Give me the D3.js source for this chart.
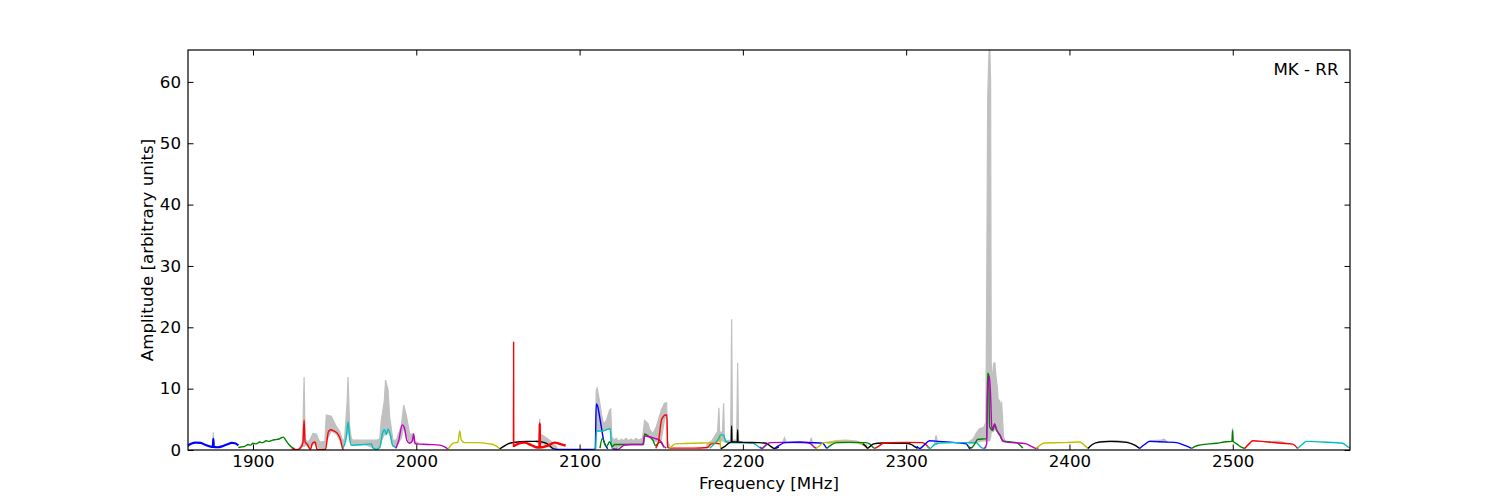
<!DOCTYPE html>
<html><head><meta charset="utf-8">
<script src="https://cdn.jsdelivr.net/npm/d3@7"></script>
<style>body{margin:0;background:#fff} svg{display:block} text{font-family:"DejaVu Sans",sans-serif}</style>
</head><body><svg id="c" width="1500" height="500"></svg>
<script>
// ---------- data ----------
const xDomain = [1860.2, 2571.8];
const yDomain = [0, 65.2];
const xTicks = [1900, 2000, 2100, 2200, 2300, 2400, 2500];
const yTicks = [0, 10, 20, 30, 40, 50, 60];
const title = "MK - RR";
const xLabel = "Frequency [MHz]";
const yLabel = "Amplitude [arbitrary units]";

// raw spectrum (grey): [freq, low, high]
const gray1876 = [[1875.2,0.55,0.6],[1875.7,0.5,2.9],[1876.2,0.5,0.55]];
const gray1930 = [[1928.6,0.1,0.3],[1930.4,0.6,1.4],[1931.3,0.6,11.9],[1931.9,0.8,1.8],[1933.5,0.6,1.3],[1934.7,0.2,1.6],[1936.7,1.0,2.7],[1938.8,1.0,2.6],[1940.8,0.1,1.3],[1944,0.1,1.4],[1944.9,1.5,5.7],[1948,3.1,5.5],[1951.1,2.6,3.8],[1953.1,1.6,3.0],[1955.1,0.3,1.4],[1956.1,1.5,1.9],[1957.6,2.5,7.6],[1958.2,3.5,11.9],[1959.2,1.9,3.8],[1960.2,0.8,1.9],[1961,0.8,1.6],[1968,0.9,1.6],[1975.6,0.2,1.6],[1977.6,0.4,1.8],[1978.6,1.5,4.9],[1980.4,2.5,8.0],[1981.2,2.5,11.4],[1982.7,3.0,9.8],[1983.7,2.5,5.4],[1985.7,0.8,1.6],[1987.8,0.5,1.6],[1990.9,2.0,4.1],[1992.3,3.8,7.3],[1993.9,2.5,5.7],[1996,1.1,2.5],[1998,2.0,2.7],[1999,1.0,1.4],[2001,1.0,1.2]];
const gray2075 = [[2073.5,1.3,1.5],[2075.3,1.0,1.6],[2075.6,1.0,5.1],[2075.9,1.0,2.6],[2078,1.0,2.3],[2080,0.8,1.9],[2082,0.4,1.5],[2084,0.2,1.0],[2086,0.15,0.5]];
const gray2110 = [[2109.7,0.2,0.5],[2110.2,3.1,9.8],[2110.8,3.1,10.1],[2112.3,3.1,7.8],[2113.6,3.1,5.5],[2114.7,3.1,4.3],[2116.4,3.3,4.8],[2118.4,3.4,6.5],[2119.1,3.4,6.7],[2119.7,0.5,2.2],[2121,0.3,1.6],[2122.5,0.4,1.9],[2124,0.5,1.4],[2125.5,0.6,1.8],[2127,0.8,1.5],[2128.5,0.85,1.9],[2130,0.9,1.5],[2131.5,0.9,1.8],[2133,0.9,1.5],[2134.5,0.9,1.9],[2136,0.9,1.6],[2137.5,0.9,1.8],[2138.5,0.9,1.8],[2139.8,2.3,4.8],[2141.9,2.2,4.3],[2143,2.0,3.3],[2144.9,1.6,2.7],[2147,1.4,3.8],[2150,1.6,6.5],[2152,5.0,7.6],[2153.3,5.5,7.7],[2153.9,0.5,1.5],[2155,0.3,0.8]];
const gray2185 = [[2178,0.4,1.0],[2181,1.0,1.5],[2183,1.1,2.4],[2184.5,1.4,3.0],[2185.3,1.5,6.9],[2185.8,1.5,2.8],[2187.5,1.5,3.0],[2188.2,1.5,7.6],[2188.7,1.3,2.0],[2190,1.2,1.5],[2192.5,1.2,1.6],[2193.1,1.2,21.3],[2193.7,1.2,1.6],[2196.2,1.2,1.6],[2196.8,1.2,14.2],[2197.4,1.2,1.5],[2199,1.2,1.3]];
const gray2225 = [[2224.5,1.2,1.3],[2225.5,1.2,2.0],[2226.5,1.2,1.3]];
const gray2241 = [[2240.8,1.1,1.2],[2241.8,1.1,1.9],[2242.8,1.0,1.1]];
const gray2260 = [[2252,1.1,1.25],[2257,1.2,1.55],[2263,1.2,1.6],[2270,1.2,1.45],[2276,0.5,0.8]];
const gray2318 = [[2317.3,1.0,1.1],[2318.3,1.0,2.4],[2319.3,1.0,1.1]];
const gray2350 = [[2338.5,1.0,1.4],[2341,1.1,1.8],[2343,1.2,2.8],[2345,1.4,3.5],[2347.5,1.5,3.7],[2348.8,1.5,4.5],[2349.3,1.5,25],[2349.9,1.5,57],[2350.5,1.5,63],[2351.1,1.5,67],[2351.7,2.0,60],[2352.1,3.0,14],[2352.8,3.0,11],[2353.5,3.0,14.1],[2354.3,3.5,14.2],[2355,3.2,12],[2355.8,3.0,10.3],[2356.5,2.5,7.5],[2357.2,2.4,8.2],[2357.8,2.2,6.5],[2358.4,2.0,7.9],[2359,1.6,5.4],[2359.6,1.4,2.2],[2360.5,1.3,1.5],[2362,1.2,1.3]];
const gray2430 = [[2420,1.3,1.4],[2428,1.35,1.55],[2436,1.2,1.35]];
const gray2455 = [[2449,1.35,1.5],[2456,1.3,1.6],[2458,1.25,1.75],[2460,1.25,1.35]];
const gray2500 = [[2499.4,1.4,1.4],[2499.9,1.4,3.6],[2500.4,1.4,1.4]];
const gray2527 = [[2522,1.25,1.35],[2528,1.15,1.45],[2532,1.05,1.2]];
const grayBands = [gray1876, gray1930, gray2075, gray2110, gray2185, gray2225, gray2241, gray2260, gray2318, gray2350, gray2430, gray2455, gray2500, gray2527];

// band-averaged spectra: [freq, amplitude]
const blue1 = [[1860,0.7],[1862,1.0],[1865,1.2],[1868,1.15],[1871,0.8],[1874,0.55],[1875.4,0.5],[1875.7,1.8],[1876,0.5],[1878,0.45],[1881,0.6],[1884,0.9],[1887,1.15],[1889,1.1],[1891,0.75]];
const green1 = [[1891,0.4],[1893,0.5],[1895,0.6],[1897,0.9],[1898.5,0.8],[1900,1.1],[1902,1.0],[1904,1.3],[1906,1.2],[1908,1.5],[1910,1.4],[1912,1.6],[1914,1.7],[1916,1.8],[1918.5,2.1],[1920,1.6],[1922,0.9],[1924,0.4],[1925.5,0.2]];
const red1 = [[1923.7,0.2],[1927,0.05],[1929.2,0.4],[1930.6,1.2],[1931.3,4.9],[1931.9,1.3],[1933.3,0.9],[1935.2,0.1],[1936.4,1.1],[1938,1.3],[1939,0.3],[1939.6,0.05],[1944.4,0.1],[1946.2,3.0],[1947.6,3.3],[1949.5,3.1],[1951.7,2.7],[1953.7,1.6],[1954.8,0.3],[1955.5,0.05]];
const cyan1 = [[1955.1,0.3],[1957.2,2.2],[1958.2,4.6],[1959.2,1.9],[1960.2,0.8],[1966,0.85],[1972.5,1.0],[1973.5,0.3],[1975.6,0.1],[1977.6,0.4],[1979.6,3.0],[1980.6,3.3],[1981.7,2.5],[1982.7,3.4],[1984.1,2.5],[1985.4,0.8],[1986.8,0.5],[1987.8,0.3]];
const magenta1 = [[1987.5,0.3],[1989.3,1.6],[1991.4,4.1],[1992.8,3.5],[1994.2,1.6],[1995.9,1.1],[1997.6,1.5],[1998.4,2.6],[1999.2,1.1],[2000,1.0],[2007,0.9],[2014.3,0.8],[2017.3,0.5],[2019.4,0.15]];
const yellow1 = [[2019.4,0.15],[2022.5,1.1],[2025.5,1.3],[2026.6,3.1],[2027.6,1.6],[2029.6,1.2],[2036.8,1.2],[2044.9,1.0],[2048,0.8],[2051.1,0.2]];
const black1 = [[2051.1,0.2],[2053,0.5],[2056.2,1.0],[2059,1.2],[2063.3,1.35],[2068,1.4],[2073.5,1.4],[2078.6,1.2],[2081.7,0.7],[2083.7,0.2]];
const red2Spike = [[2059.5,0.5],[2059.6,17.6],[2059.7,0.6]];
const red2 = [[2059.7,0.6],[2062.2,1.0],[2066.4,1.2],[2070.4,0.8],[2074.5,0.4],[2075.45,0.4],[2075.6,4.35],[2075.75,0.4],[2080.6,0.7],[2084.7,1.2],[2087.8,1.0],[2091.5,0.7]];
const blue2 = [[2083.7,0.2],[2086.8,0.1],[2100,0.1],[2109.6,0.15],[2110.2,7.5],[2111.2,7.0],[2111.9,6.0],[2113.3,3.8],[2114.7,1.6],[2116.4,0.5],[2117.3,0.2]];
const cyan2 = [[2109.9,0.2],[2110.3,3.1],[2114.3,3.1],[2117.3,3.4],[2118.7,3.5],[2119.3,1.6],[2119.9,0.3],[2121.4,0.1],[2123,0.3]];
const green2 = [[2112.5,0.3],[2113.9,1.9],[2116.4,0.55],[2118.4,1.35],[2120,0.55],[2121.5,0.9],[2130,0.9],[2139.2,0.9],[2139.8,2.6],[2141.9,2.3],[2144.9,1.6],[2146.6,0.7],[2148,1.1],[2150.1,1.3],[2151.5,0.4]];
const magenta2 = [[2120.3,0.2],[2123.3,0.1],[2127.5,0.8],[2131.5,0.9],[2138.7,0.9],[2139.8,2.3],[2141.9,2.2],[2146,1.9],[2149,1.6],[2151,0.8],[2153.1,0.3]];
const red3 = [[2146.6,0.3],[2148.2,1.2],[2150.3,5.0],[2152.7,5.7],[2153.5,5.7],[2153.9,0.5],[2155.2,0.3],[2170,0.3],[2178.4,0.4],[2180.5,1.0],[2183.5,1.1],[2186,1.0]];
const yellow2 = [[2154.5,0.2],[2156.5,0.6],[2158.5,1.0],[2165,1.05],[2175,1.15],[2182,1.2],[2184.5,1.4],[2185.8,2.4],[2186.3,0.5],[2187,0.2]];
const cyan3 = [[2179.7,0.3],[2184.8,1.7],[2186.8,2.5],[2188.2,2.4],[2189.5,1.4],[2192,1.2],[2206,1.15],[2209.3,0.6],[2211.4,0.25],[2213.4,0.6],[2215.4,1.0]];
const black2 = [[2186.5,0.2],[2189,0.6],[2191.9,1.2],[2192.9,1.3],[2193.1,3.9],[2193.3,1.3],[2196.6,1.3],[2196.8,3.3],[2197,1.3],[2200,1.25],[2210,1.2],[2214.3,1.1],[2217,0.6],[2219.5,0.25],[2222,0.5]];
const magenta3 = [[2210.5,0.5],[2211.8,0.25],[2214.3,0.9],[2217,1.2],[2225,1.25],[2235,1.2],[2240.9,1.1],[2243.5,0.5],[2245.2,0.2]];
const blue3 = [[2219.5,0.25],[2222,0.7],[2225.6,1.2],[2235,1.3],[2242,1.2],[2248.9,1.1],[2250.5,0.6],[2251.3,0.25]];
const yellow3 = [[2244.6,0.2],[2247,0.7],[2249.5,1.2],[2260,1.3],[2270,1.2],[2273.5,1.0],[2275.5,0.5],[2277,0.2]];
const green3 = [[2251.3,0.25],[2254,0.8],[2257.4,1.2],[2265,1.25],[2275,1.2],[2277.6,1.0],[2279.5,0.5],[2280.7,0.25]];
const black3 = [[2273.5,1.0],[2275.2,0.6],[2276.3,0.3],[2278,0.6],[2280,1.0],[2285,1.15],[2300,1.1],[2303,0.9],[2305.5,0.5],[2307,0.25]];
const red4 = [[2280.7,0.25],[2283,0.6],[2286,1.1],[2288,1.2],[2300,1.25],[2310,1.2],[2312,0.9],[2313.5,0.5],[2314.4,0.25]];
const blue4 = [[2306.5,0.6],[2308.3,0.25],[2311,0.8],[2314.4,1.5],[2320,1.4],[2330,1.2],[2336.8,1.0],[2338.2,0.5],[2338.9,0.25],[2340,0.5]];
const cyan4 = [[2313,0.6],[2314.6,0.25],[2317,0.8],[2320.5,1.15],[2330,1.2],[2342.9,1.2],[2344.5,0.8],[2346,0.4],[2347.5,0.25],[2349,0.5]];
const green4 = [[2338,0.6],[2339.8,0.3],[2342,1.0],[2343.9,1.75],[2349.3,1.85],[2349.9,12.5],[2350.5,12.3],[2351.1,3.8],[2353.1,3.2],[2354.2,4.1],[2355.5,3.2],[2357.2,2.5],[2359.3,1.5],[2364,1.3],[2367.5,1.2],[2370.4,0.6],[2371.4,0.3]];
const magenta4 = [[2348,0.25],[2349.3,1.0],[2350,10.3],[2351,12.0],[2351.8,8.2],[2352.5,3.3],[2354.2,4.3],[2355.2,3.4],[2357.5,2.4],[2359.3,1.4],[2365,1.2],[2373.5,1.0],[2376.6,0.6],[2379.6,0.25],[2381,0.4]];
const yellow4 = [[2379.6,0.25],[2382,0.8],[2384.8,1.15],[2395,1.2],[2406.2,1.3],[2409,0.8],[2411.3,0.25]];
const black4 = [[2411.3,0.25],[2414,0.9],[2418.5,1.3],[2425,1.4],[2435,1.25],[2440,0.8],[2443,0.25]];
const blue5 = [[2443,0.25],[2446,0.9],[2449.1,1.4],[2455,1.35],[2465.6,1.2],[2471,0.7],[2474.8,0.25]];
const green5 = [[2474.8,0.25],[2477,0.6],[2479.7,0.8],[2490,1.1],[2496.2,1.35],[2499.6,1.4],[2499.9,3.2],[2500.2,1.4],[2502.4,1.0],[2505,0.5],[2507.3,0.25]];
const red5 = [[2507.3,0.25],[2510,1.0],[2512.2,1.5],[2520,1.35],[2530,1.1],[2536.7,0.95],[2539.7,0.25]];
const cyan5 = [[2539.7,0.25],[2542.5,0.9],[2545.2,1.4],[2555,1.3],[2567.3,1.1],[2570,0.6],[2572,0.3]];

const palette = {b:"#0000ff", g:"#008000", r:"#ff0000", c:"#00bfbf", m:"#bf00bf", y:"#bfbf00", k:"#000000"};
const series = [
  [blue1,"b",2.2],[green1,"g"],[red1,"r"],[cyan1,"c"],[magenta1,"m"],[yellow1,"y"],[black1,"k"],
  [red2Spike,"r",1.4],[red2,"r",2.4],[blue2,"b"],[cyan2,"c"],[green2,"g"],[magenta2,"m"],[red3,"r"],[yellow2,"y"],
  [cyan3,"c"],[black2,"k"],[magenta3,"m"],[blue3,"b"],[yellow3,"y"],[green3,"g"],[black3,"k"],
  [red4,"r"],[blue4,"b"],[cyan4,"c"],[green4,"g"],[magenta4,"m"],[yellow4,"y"],[black4,"k"],
  [blue5,"b"],[green5,"g"],[red5,"r"],[cyan5,"c"]
];

// ---------- drawing ----------
const L = 188, R = 1350, T = 50, B = 450;
const svg = d3.select("#c");
svg.append("rect").attr("width",1500).attr("height",500).attr("fill","#fff");
const x = d3.scaleLinear().domain(xDomain).range([L, R]);
const y = d3.scaleLinear().domain(yDomain).range([B, T]);

svg.append("clipPath").attr("id","clip").append("rect")
  .attr("x",L).attr("y",T).attr("width",R-L).attr("height",B-T);
const plot = svg.append("g").attr("clip-path","url(#clip)");

const area = d3.area().x(d => x(d[0])).y0(d => y(d[1])).y1(d => y(d[2]));
plot.selectAll("path.gray").data(grayBands).join("path")
  .attr("class","gray").attr("d", area)
  .attr("fill","#c0c0c0").attr("stroke","#c0c0c0").attr("stroke-width",1.2);

const line = d3.line().x(d => x(d[0])).y(d => y(d[1])).curve(d3.curveMonotoneX);
plot.selectAll("path.s").data(series).join("path")
  .attr("class","s").attr("d", d => line(d[0]))
  .attr("fill","none").attr("stroke", d => palette[d[1]])
  .attr("stroke-width", d => d[2] || 1.4).attr("stroke-linejoin","round");

const fs = "16.67px";
function styleAxis(g){
  g.select(".domain").remove();
  g.selectAll("line").attr("stroke","#000").attr("stroke-width",1);
  g.selectAll("text").attr("font-family","'DejaVu Sans',sans-serif").attr("font-size",fs).attr("fill","#000");
}
svg.append("g").attr("transform",`translate(0,${B})`)
  .call(d3.axisBottom(x).tickValues(xTicks).tickSize(-5.5).tickSizeOuter(0).tickPadding(5.5).tickFormat(d3.format("d")))
  .call(styleAxis);
svg.append("g").attr("transform",`translate(0,${T})`)
  .call(d3.axisTop(x).tickValues(xTicks).tickSize(-5.5).tickSizeOuter(0).tickFormat(""))
  .call(styleAxis);
svg.append("g").attr("transform",`translate(${L},0)`)
  .call(d3.axisLeft(y).tickValues(yTicks).tickSize(-5.5).tickSizeOuter(0).tickPadding(7).tickFormat(d3.format("d")))
  .call(styleAxis);
svg.append("g").attr("transform",`translate(${R},0)`)
  .call(d3.axisRight(y).tickValues(yTicks).tickSize(-5.5).tickSizeOuter(0).tickFormat(""))
  .call(styleAxis);

svg.append("rect").attr("x",L).attr("y",T).attr("width",R-L).attr("height",B-T)
  .attr("fill","none").attr("stroke","#000").attr("stroke-width",1.2);

svg.append("text").attr("x",(L+R)/2).attr("y",489).attr("text-anchor","middle")
  .attr("font-size",fs).text(xLabel);
svg.append("text").attr("transform",`translate(153,${(T+B)/2}) rotate(-90)`).attr("text-anchor","middle")
  .attr("font-size",fs).text(yLabel);
svg.append("text").attr("x",1338.5).attr("y",75).attr("text-anchor","end")
  .attr("font-size",fs).text(title);
</script>
</body></html>
